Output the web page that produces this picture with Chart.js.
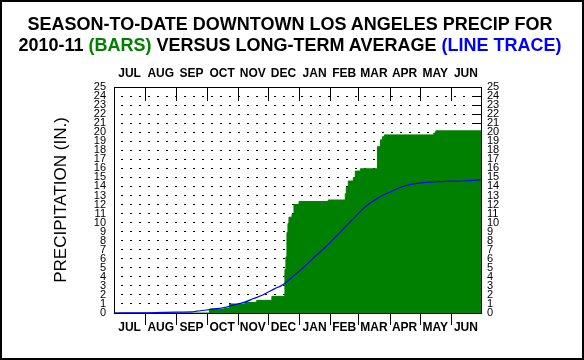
<!DOCTYPE html>
<html>
<head>
<meta charset="utf-8">
<script src="https://cdn.jsdelivr.net/npm/chart.js@4.4.0/dist/chart.umd.min.js"></script>
<style>
  html, body { margin: 0; padding: 0; background: #fff; }
  #frame { position: relative; width: 584px; height: 360px; box-sizing: border-box; border: 2px solid #000; background: #fff; overflow: hidden; }
  #title { position: absolute; left: 0; top: 12px; width: 576px; text-align: center; font: bold 18px "Liberation Sans", Arial, sans-serif; line-height: 21px; color: #000; }
  .bars { color: #008000; }
  .trace { color: #0000ff; }
  canvas { display: block; }
</style>
</head>
<body>
<div id="frame">
  <canvas id="precipChart" width="580" height="356"></canvas>
  <div id="title">SEASON-TO-DATE DOWNTOWN LOS ANGELES PRECIP FOR<br>2010-11 <span class="bars">(BARS)</span> VERSUS LONG-TERM AVERAGE <span class="trace">(LINE TRACE)</span></div>
</div>
<script>
// season runs Jul 1 2010 (day 0) to Jun 30 2011 (day 365)
const monthNames = ["JUL", "AUG", "SEP", "OCT", "NOV", "DEC", "JAN", "FEB", "MAR", "APR", "MAY", "JUN"];
const monthStarts = [0, 31, 62, 92, 123, 153, 184, 215, 243, 274, 304, 335, 365];
const yTicks = [0, 1, 2, 3, 4, 5, 6, 7, 8, 9, 10, 11, 12, 13, 14, 15, 16, 17, 18, 19, 20, 21, 22, 23, 24, 25];

// 2010-11 season-to-date total (in.) after each rain day
const rainDays = [95, 110, 115, 130, 142, 157, 170, 171, 172, 173, 174, 177, 179, 184, 213, 230, 231, 233, 238, 240, 245, 262, 265, 267, 269, 318, 320];
const seasonTotal = [0.45, 0.55, 1.0, 1.18, 1.4, 1.84, 4.8, 6.2, 8.9, 9.9, 10.6, 10.9, 12.0, 12.33, 12.5, 13.2, 13.9, 14.6, 15.0, 15.7, 15.95, 18.4, 19.15, 19.5, 19.7, 19.9, 20.15];

// long-term average season-to-date (in.)
const normalDays = [0, 31, 50, 62, 78, 82, 92, 100, 107, 115, 123, 130, 139, 146, 153, 160, 166, 170, 176, 184, 192, 200, 208, 215, 222, 229, 236, 243, 250, 258, 266, 274, 284, 294, 304, 314, 324, 335, 350, 365];
const normalTotal = [0.0, 0.02, 0.08, 0.1, 0.12, 0.2, 0.33, 0.45, 0.55, 0.75, 1.0, 1.2, 1.6, 1.9, 2.3, 2.7, 3.0, 3.3, 3.85, 4.6, 5.4, 6.25, 7.05, 7.8, 8.6, 9.4, 10.2, 11.0, 11.75, 12.4, 12.95, 13.35, 13.85, 14.2, 14.38, 14.48, 14.53, 14.58, 14.63, 14.75];

const monthMids = monthNames.map((m, i) => (monthStarts[i] + monthStarts[i + 1]) / 2);

const barPoints = [{ x: 0, y: 0 }];
rainDays.forEach((d, i) => barPoints.push({ x: d, y: seasonTotal[i] }));
barPoints.push({ x: 365, y: seasonTotal[seasonTotal.length - 1] });

const normalPoints = normalDays.map((d, i) => ({ x: d, y: normalTotal[i] }));

const fontFamily = "'Liberation Sans', Arial, sans-serif";
Chart.defaults.font.family = fontFamily;
Chart.defaults.color = "#000";

// inch ticks on the right edge (under the bars), month ticks at top and bottom
const tickMarks = {
  id: "tickMarks",
  beforeDatasetsDraw(chart) {
    const { ctx, chartArea: a, scales } = chart;
    ctx.save();
    ctx.setLineDash([]);
    ctx.strokeStyle = "#000";
    ctx.lineWidth = 1;
    ctx.beginPath();
    yTicks.slice(1, -1).forEach((v) => {
      const py = Math.round(scales.y.getPixelForValue(v)) + 0.5;
      ctx.moveTo(a.right - 9, py);
      ctx.lineTo(a.right, py);
    });
    ctx.stroke();
    ctx.restore();
  },
  afterDatasetsDraw(chart) {
    const { ctx, chartArea: a, scales } = chart;
    ctx.save();
    ctx.setLineDash([]);
    ctx.strokeStyle = "#000";
    ctx.lineWidth = 1;
    ctx.beginPath();
    monthStarts.slice(1, -1).forEach((d) => {
      const px = Math.round(scales.x.getPixelForValue(d)) + 0.5;
      ctx.moveTo(px, a.top);
      ctx.lineTo(px, a.top + 14);
      ctx.moveTo(px, a.bottom);
      ctx.lineTo(px, a.bottom + 12);
    });
    ctx.stroke();
    ctx.restore();
  },
};

const monthAxis = (position, padding) => ({
  type: "linear",
  position: position,
  min: 0,
  max: 365,
  afterBuildTicks: (s) => { s.ticks = monthMids.map((v) => ({ value: v })); },
  afterFit: (s) => { s.height = 30; },
  grid: { display: false, drawTicks: false },
  border: { display: true, color: "#000", width: 1, z: 1 },
  ticks: {
    autoSkip: false,
    maxRotation: 0,
    padding: padding,
    color: "#000",
    font: { size: 12, weight: "bold" },
    callback: (v, i) => monthNames[i],
  },
});

const inchAxis = (position, width, padding, showGrid) => ({
  type: "linear",
  position: position,
  min: 0,
  max: 25,
  afterBuildTicks: (s) => { s.ticks = yTicks.map((v) => ({ value: v })); },
  afterFit: (s) => { s.width = width; },
  grid: { display: showGrid, drawOnChartArea: showGrid, drawTicks: false, color: "#000", lineWidth: 1 },
  border: { display: true, color: "#000", width: 1, z: 1, dash: [2, 7], dashOffset: -6 },
  ticks: { autoSkip: false, padding: padding, color: "#000", font: { size: 11 } },
});

const yLeft = inchAxis("left", 112, 8, true);
yLeft.title = {
  display: true,
  text: "PRECIPITATION (IN.)",
  color: "#000",
  font: { size: 17 },
  padding: { top: 49.5, bottom: 0 },
};

new Chart(document.getElementById("precipChart"), {
  type: "line",
  data: {
    datasets: [
      {
        label: "Long-term average",
        data: normalPoints,
        borderColor: "#0000ff",
        borderWidth: 1.2,
        pointRadius: 0,
        cubicInterpolationMode: "monotone",
        fill: false,
        order: 0,
      },
      {
        label: "2010-11",
        data: barPoints,
        stepped: true,
        borderColor: "#008000",
        borderWidth: 1,
        backgroundColor: "#008000",
        pointRadius: 0,
        fill: "origin",
        order: 1,
      },
    ],
  },
  options: {
    responsive: false,
    animation: false,
    layout: { padding: { left: 0, right: 61, top: 55, bottom: 15 } },
    plugins: {
      legend: { display: false },
      tooltip: { enabled: false },
      title: { display: false },
    },
    scales: {
      x: monthAxis("bottom", 7),
      xTop: monthAxis("top", 6.5),
      y: yLeft,
      y2: inchAxis("right", 40, 6, false),
    },
  },
  plugins: [tickMarks],
});
</script>
</body>
</html>
